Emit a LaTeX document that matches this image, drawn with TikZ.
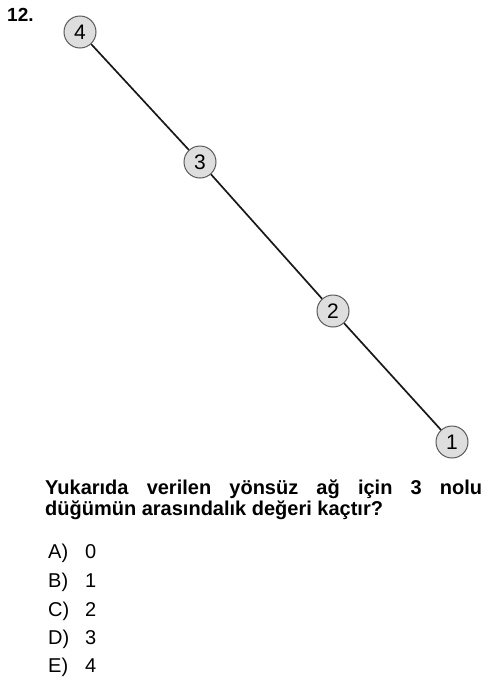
\documentclass[tikz,border=0pt]{standalone}
\usepackage{fontspec}
\setmainfont{Liberation Sans}
\begin{document}
\begin{tikzpicture}[x=1pt,y=-1pt,
  vertex/.style={circle,draw=black!65,fill=black!13,line width=1pt,minimum size=32pt,inner sep=0pt,font=\fontsize{21}{23}\selectfont},
  edge/.style={line width=1.7pt,black!90},
  qtext/.style={anchor=north west,inner sep=0pt,text width=437pt,align=justify,font=\bfseries\fontsize{20}{20.5}\selectfont},
  opt/.style={anchor=base west,inner sep=0pt,font=\fontsize{20}{22}\selectfont}]
\useasboundingbox (0,0) rectangle (500,681);
\node[anchor=base west,inner sep=0pt,font=\bfseries\fontsize{19}{21}\selectfont] (num) at (7,21) {12.};
\node[vertex] (n4) at (80,32) {4};
\node[vertex] (n3) at (200,162) {3};
\node[vertex] (n2) at (333,311) {2};
\node[vertex] (n1) at (452,442) {1};
\draw[edge] (n4) -- (n3);
\draw[edge] (n3) -- (n2);
\draw[edge] (n2) -- (n1);
\node[qtext] (q) at (45,480) {Yukarıda verilen yönsüz ağ için 3 nolu düğümün arasındalık değeri kaçtır?};
\node[opt] (oa) at (48,558) {\makebox[37pt][l]{A)}0};
\node[opt] (ob) at (48,587) {\makebox[37pt][l]{B)}1};
\node[opt] (oc) at (48,616) {\makebox[37pt][l]{C)}2};
\node[opt] (od) at (48,644) {\makebox[37pt][l]{D)}3};
\node[opt] (oe) at (48,672) {\makebox[37pt][l]{E)}4};
\end{tikzpicture}
\end{document}
